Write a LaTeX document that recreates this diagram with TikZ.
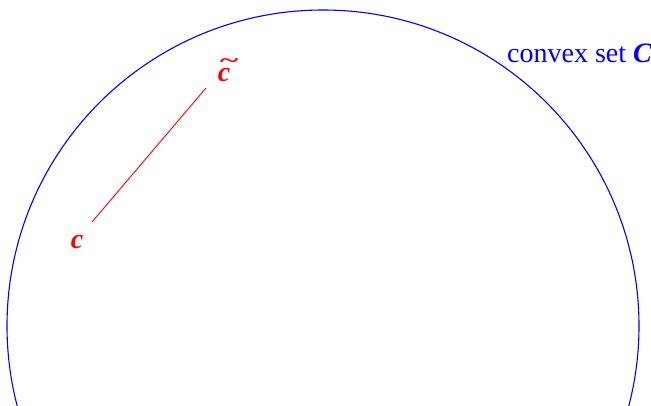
\documentclass[tikz,border=0pt]{standalone}
\usepackage{fontspec}
\usepackage{graphicx}
\setmainfont{Liberation Serif}
\begin{document}
\begin{tikzpicture}[x=1pt,y=-1pt,
  lbl/.style={inner sep=0pt, font=\fontsize{28}{30}\selectfont},
  redlbl/.style={lbl, text=red, font=\fontsize{28}{30}\selectfont\bfseries\itshape}]
\useasboundingbox (0,0) rectangle (651,405);
\begin{scope}
\clip (0,0) rectangle (651,405);
\draw[blue, line width=1.1pt] (323,326) circle[radius=316];
\end{scope}
\node[lbl, text=blue, anchor=base west] (setC) at (507,62) {convex set \textbf{\textit{C}}};
\node[redlbl] (c) at (77,242) {c};
\node[redlbl] (ct) at (224,70) {\makebox[0pt][l]{\raisebox{0.52em}{\hspace{0.04em}\scalebox{1.25}[0.75]{\textasciitilde}}}c};
\coordinate (a) at (92,222);
\coordinate (b) at (206,88);
\draw[red, line width=0.9pt] (a) -- (b);
\end{tikzpicture}
\end{document}
